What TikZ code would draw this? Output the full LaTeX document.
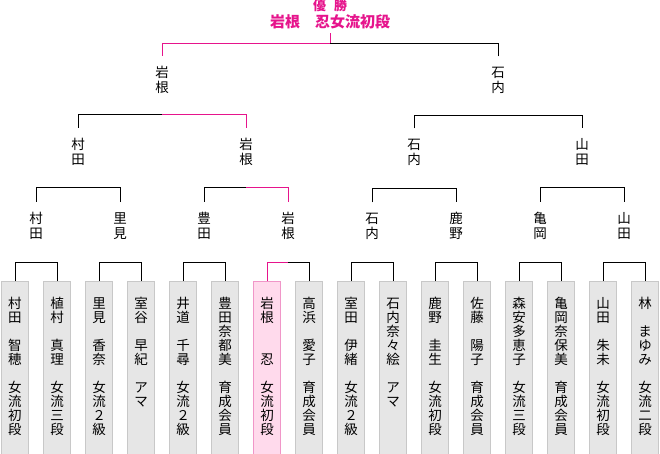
\documentclass[tikz,border=0pt]{standalone}
\usepackage{fontspec}
\newfontfamily\cjk{Noto Sans CJK JP}
\usetikzlibrary{calc}
\definecolor{winline}{RGB}{230,20,140}
\definecolor{boxfill}{RGB}{230,230,230}
\definecolor{boxline}{RGB}{200,200,200}
\definecolor{pinkfill}{RGB}{255,218,236}
\definecolor{pinkline}{RGB}{240,150,200}
% vertical text, one character per line
\newcommand{\vt}[1]{\vtop{\vtloop#1\relax}}
\def\vtloop#1{\ifx#1\relax\else\hbox to 14pt{\hss#1\hss}\expandafter\vtloop\fi}
% bracket: top name, left node, right node, rise, left style, right style
\newcommand{\bout}[6]{%
  \coordinate (#1) at ($(#2.north)!0.5!(#3.north)+(0,-#4)$);
  \draw[#5] (#2.north) |- (#1);
  \draw[#6] (#3.north) |- (#1);
}

\begin{document}
\begin{tikzpicture}[x=1pt, y=-1pt, line width=1pt,
    pbox/.style={draw=boxline, fill=boxfill, anchor=north, minimum width=27pt,
      inner xsep=0pt, inner ysep=15pt, text height=12pt, text depth=140pt,
      font=\cjk\fontsize{13.5}{14}\selectfont},
    pwin/.style={pbox, draw=pinkline, fill=pinkfill},
    rnd/.style={inner xsep=0pt, inner ysep=10pt, font=\cjk\fontsize{13.5}{15}\selectfont},
    win/.style={draw=winline}]
  \useasboundingbox[fill=white] (0,0) rectangle (660,454);

  % players
  \node[pbox] (pl1)  at (15,281)  {\vt{村田　智穂　女流初段}};
  \node[pbox] (pl2)  at (57,281)  {\vt{植村　真理　女流三段}};
  \node[pbox] (pl3)  at (99,281)  {\vt{里見　香奈　女流２級}};
  \node[pbox] (pl4)  at (141,281) {\vt{室谷　早紀　アマ}};
  \node[pbox] (pl5)  at (183,281) {\vt{井道　千尋　女流２級}};
  \node[pbox] (pl6)  at (225,281) {\vt{豊田奈都美　育成会員}};
  \node[pwin] (pl7)  at (267,281) {\vt{岩根　　忍　女流初段}};
  \node[pbox] (pl8)  at (309,281) {\vt{高浜　愛子　育成会員}};
  \node[pbox] (pl9)  at (351,281) {\vt{室田　伊緒　女流２級}};
  \node[pbox] (pl10) at (393,281) {\vt{石内奈々絵　アマ}};
  \node[pbox] (pl11) at (435,281) {\vt{鹿野　圭生　女流初段}};
  \node[pbox] (pl12) at (477,281) {\vt{佐藤　陽子　育成会員}};
  \node[pbox] (pl13) at (519,281) {\vt{森安多恵子　女流三段}};
  \node[pbox] (pl14) at (561,281) {\vt{亀岡奈保美　育成会員}};
  \node[pbox] (pl15) at (603,281) {\vt{山田　朱未　女流初段}};
  \node[pbox] (pl16) at (645,281) {\vt{林　まゆみ　女流二段}};

  % winners of each round
  \node[rnd] (r1a) at (36,226)  {\vt{村田}};
  \node[rnd] (r1b) at (120,226) {\vt{里見}};
  \node[rnd] (r1c) at (204,226) {\vt{豊田}};
  \node[rnd] (r1d) at (288,226) {\vt{岩根}};
  \node[rnd] (r1e) at (372,226) {\vt{石内}};
  \node[rnd] (r1f) at (456,226) {\vt{鹿野}};
  \node[rnd] (r1g) at (540,226) {\vt{亀岡}};
  \node[rnd] (r1h) at (624,226) {\vt{山田}};
  \node[rnd] (r2a) at (78,152)  {\vt{村田}};
  \node[rnd] (r2b) at (246,152) {\vt{岩根}};
  \node[rnd] (r2c) at (414,152) {\vt{石内}};
  \node[rnd] (r2d) at (582,152) {\vt{山田}};
  \node[rnd] (r3a) at (162,80)  {\vt{岩根}};
  \node[rnd] (r3b) at (498,80)  {\vt{石内}};

  \node[text=winline, font=\cjk\bfseries\fontsize{13}{13}\selectfont] (champ) at (330,6) {優\kern8pt勝};
  \node[text=winline, inner ysep=3pt, font=\cjk\bfseries\fontsize{15}{15}\selectfont] (champname) at (330,22) {岩根　忍女流初段};

  % brackets
  \bout{m1}{pl1}{pl2}{19}{}{}
  \bout{m2}{pl3}{pl4}{19}{}{}
  \bout{m3}{pl5}{pl6}{19}{}{}
  \bout{m4}{pl7}{pl8}{19}{win}{}
  \bout{m5}{pl9}{pl10}{19}{}{}
  \bout{m6}{pl11}{pl12}{19}{}{}
  \bout{m7}{pl13}{pl14}{19}{}{}
  \bout{m8}{pl15}{pl16}{19}{}{}
  \bout{n1}{r1a}{r1b}{14}{}{}
  \bout{n2}{r1c}{r1d}{14}{}{win}
  \bout{n3}{r1e}{r1f}{14}{}{}
  \bout{n4}{r1g}{r1h}{14}{}{}
  \bout{t1}{r2a}{r2b}{13}{}{win}
  \bout{t2}{r2c}{r2d}{13}{}{}
  \bout{fin}{r3a}{r3b}{13}{win}{}
  \draw[win] (fin) -- (champname.south);
\end{tikzpicture}
\end{document}
